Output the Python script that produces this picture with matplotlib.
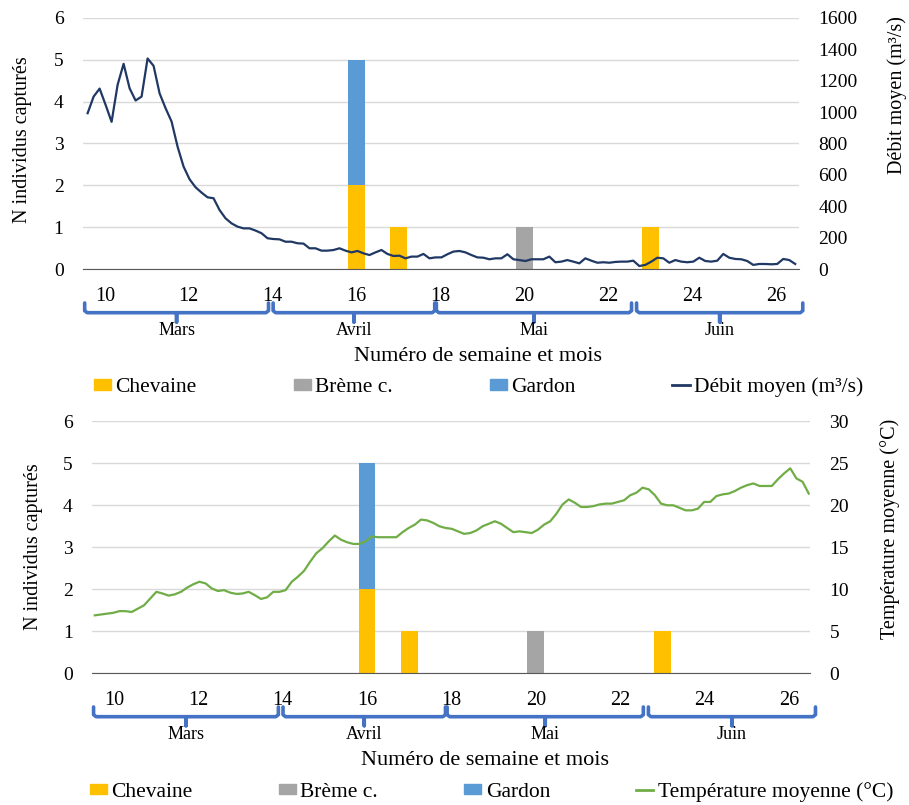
import numpy as np
import matplotlib
matplotlib.use("Agg")
import matplotlib.pyplot as plt
from matplotlib.patches import Patch
from matplotlib.lines import Line2D
from matplotlib.transforms import blended_transform_factory

plt.rcParams['font.family'] = ['Liberation Serif', 'DejaVu Serif']

# captures per week (stacked bars)
weeks = [16, 17, 20, 23]
chevaine = [2, 1, 0, 1]
breme = [0, 0, 1, 0]
gardon = [3, 0, 0, 0]

# daily mean discharge (m3/s), from week ~9.6 to ~26.45
debit = [993, 1099, 1150, 1046, 938, 1174, 1308, 1152, 1074, 1099,
         1342, 1295, 1120, 1025, 940, 780, 653, 572, 521, 487,
         457, 451, 376, 323, 291, 270, 259, 259, 245, 228,
         196, 191, 189, 174, 174, 164, 162, 132, 132, 117,
         117, 121, 132, 117, 106, 115, 100, 89, 106, 121,
         96, 83, 85, 68, 79, 79, 96, 68, 74, 74,
         94, 111, 115, 106, 89, 74, 72,
         62, 68, 68, 94, 62, 57, 51, 62, 62, 62,
         79, 43, 47, 57, 47, 36, 68, 53, 40, 43,
         40, 45, 47, 47, 53, 19, 26, 47, 72, 68,
         40, 57, 47, 43, 47, 72, 51, 47, 53, 96,
         72, 64, 62, 51, 26, 32, 32, 30, 32, 64,
         57, 32]
debit_span = (9.59, 26.45)

# daily mean water temperature (deg C)
temperature = [6.9, 7.0, 7.1, 7.2, 7.4, 7.4, 7.3, 7.7, 8.1, 8.9,
               9.7, 9.5, 9.25, 9.4, 9.7, 10.2, 10.6, 10.9, 10.7, 10.1,
               9.8, 9.9, 9.6, 9.45, 9.5, 9.7, 9.3, 8.85, 9.05, 9.7,
               9.7, 9.9, 10.9, 11.5, 12.2, 13.3, 14.3, 14.9, 15.7, 16.4,
               15.9, 15.6, 15.4, 15.4, 15.7, 16.3, 16.2, 16.2, 16.2, 16.2,
               16.8, 17.3, 17.7, 18.3, 18.2, 17.9, 17.5, 17.3, 17.2, 16.9,
               16.6, 16.7, 17.0, 17.5, 17.8, 18.1, 17.8, 17.3, 16.8, 16.9,
               16.8, 16.7, 17.1, 17.7, 18.1, 19.0, 20.1, 20.7, 20.3, 19.8,
               19.8, 19.9, 20.1, 20.2, 20.2, 20.4, 20.6, 21.2, 21.5, 22.1,
               21.9, 21.2, 20.2, 20.0, 20.0, 19.7, 19.4, 19.4, 19.6, 20.4,
               20.4, 21.1, 21.3, 21.4, 21.7, 22.1, 22.4, 22.6, 22.3, 22.3,
               22.3, 23.1, 23.8, 24.4, 23.2, 22.8, 21.4]
temp_span = (9.55, 26.47)

xticks = [10, 12, 14, 16, 18, 20, 22, 24, 26]
months = ['Mars', 'Avril', 'Mai', 'Juin']
month_spans = [(9.52, 13.9), (14.01, 17.86), (17.9, 22.55), (22.67, 26.63)]

C_CHE, C_BRE, C_GAR = '#FFC000', '#A5A5A5', '#5B9BD5'
C_DEB, C_TEMP, C_BRACE = '#203864', '#70AD47', '#4472C4'

W, H = 909, 805
fig = plt.figure(figsize=(W / 100, H / 100), dpi=100)


def panel(rect, xlim, series, span, color, ymax2, ystep2, label2,
          lab_left, lab_right, rows, title_x, leg_x, colspace):
    ax = fig.add_axes(rect)
    ax.set_xlim(*xlim)
    ax.set_ylim(0, 6)
    ax.set_yticks(range(0, 7))
    ax.grid(axis='y', color='#D9D9D9', lw=1)
    ax.set_axisbelow(True)
    for s in ['top', 'right', 'left']:
        ax.spines[s].set_visible(False)
    ax.spines['bottom'].set_color('#595959')
    ax.tick_params(axis='y', length=0, pad=14, labelsize=14)
    ax.tick_params(axis='x', length=0, pad=13, labelsize=14.5)
    ax.set_xticks(xticks)

    bot = np.zeros(len(weeks))
    for vals, c in [(chevaine, C_CHE), (breme, C_BRE), (gardon, C_GAR)]:
        ax.bar(weeks, vals, width=0.4, bottom=bot, color=c)
        bot += np.array(vals)

    ax.set_ylabel('N individus capturés', fontsize=14.5, va='center')
    ax.yaxis.set_label_coords(*lab_left)

    ax2 = ax.twinx()
    x = np.linspace(span[0], span[1], len(series))
    ax2.plot(x, series, color=color, lw=1.6)
    ax2.set_ylim(0, ymax2)
    ax2.set_yticks(np.arange(0, ymax2 + 1, ystep2))
    for s in ax2.spines.values():
        s.set_visible(False)
    ax2.tick_params(axis='y', length=0, pad=14, labelsize=14)
    ax2.set_ylabel(label2, fontsize=14.5, va='center')
    ax2.yaxis.set_label_coords(*lab_right)

    # month braces under the week labels
    y_bar, y_top, y_tip, y_mon, y_title, y_leg = [1 - v / H for v in rows]
    tr = blended_transform_factory(ax.transData, fig.transFigure)
    for name, (a, b) in zip(months, month_spans):
        m = (a + b) / 2
        d = 0.06
        xs = [a, a, a + d, m, m, m, b - d, b, b]
        ys = [y_top, y_bar + 2 / H, y_bar, y_bar, y_tip, y_bar, y_bar, y_bar + 2 / H, y_top]
        fig.add_artist(Line2D(xs, ys, transform=tr, color=C_BRACE, lw=2.6,
                              solid_joinstyle='round', solid_capstyle='round'))
        fig.text(m, y_mon, name, transform=tr, ha='center', va='center', fontsize=13)
    fig.text(title_x / W, y_title, 'Numéro de semaine et mois',
             ha='center', va='center', fontsize=16)

    handles = [Patch(color=C_CHE), Patch(color=C_BRE), Patch(color=C_GAR),
               Line2D([], [], color=color, lw=2)]
    labels = ['Chevaine', 'Brème c.', 'Gardon', label2]
    fig.legend(handles, labels, loc='center left', bbox_to_anchor=(leg_x / W, y_leg),
               ncol=4, frameon=False, fontsize=15.5, handlelength=0.8,
               handleheight=0.4, handletextpad=0.2, columnspacing=colspace,
               borderpad=0, borderaxespad=0)
    return ax


panel([83 / W, 1 - 269 / H, 716 / W, 251 / H], (9.48, 26.54), debit, debit_span, C_DEB,
      1600, 200, 'Débit moyen (m³/s)', (-0.085, 0.514), (1.137, 0.693),
      (312.7, 303, 322, 330.5, 356, 387), 478, 94, 4.5)

panel([92.3 / W, 1 - 673.3 / H, 717.7 / W, 252 / H], (9.49, 26.5), temperature, temp_span, C_TEMP,
      30, 5, 'Température moyenne (°C)', (-0.0826, 0.502), (1.111, 0.573),
      (716.7, 707, 725.7, 734.3, 760, 791.7), 485, 90, 4.0)

fig.savefig('out.png', dpi=100)
